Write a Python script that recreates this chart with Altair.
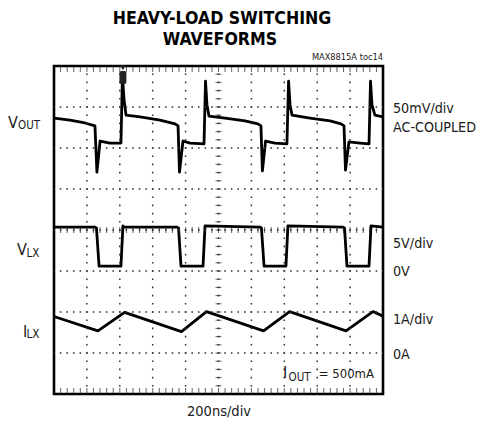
import altair as alt
import pandas as pd

# horizontal: time in ns (200 ns/div, 10 div); vertical: screen divisions (0 = bottom, 8 = top)
vout_t = [0, 97, 188, 249, 261, 280, 340, 407, 416, 426, 438, 523, 644, 736, 754, 763, 784, 827, 912, 921,
          930, 942, 1040, 1161, 1240, 1258, 1267, 1286, 1343, 1416, 1426, 1435, 1447, 1556, 1678, 1745, 1763,
          1772, 1793, 1860, 1915, 1924, 1933, 1951, 2000]
vout_div = [6.73, 6.68, 6.61, 6.54, 5.41, 6.17, 6.12, 6.12, 7.76, 7.17, 6.80, 6.76, 6.68, 6.59, 6.54, 5.41,
            6.17, 6.12, 6.10, 7.63, 7.05, 6.78, 6.73, 6.66, 6.59, 6.54, 5.44, 6.17, 6.12, 6.10, 7.63, 7.05,
            6.80, 6.73, 6.66, 6.59, 6.54, 5.46, 6.15, 6.12, 6.10, 7.63, 7.05, 6.80, 6.76]

vlx_t = [0, 249, 258, 274, 407, 419, 426, 748, 757, 772, 906, 918, 1252, 1261, 1277, 1410, 1422, 1757,
         1766, 1781, 1915, 1927, 2000]
vlx_div = [4.07, 4.07, 4.05, 3.12, 3.12, 4.10, 4.07, 4.07, 4.05, 3.12, 3.12, 4.10, 4.07, 4.05, 3.12, 3.12,
           4.10, 4.07, 4.05, 3.12, 3.12, 4.10, 4.07]

ilx_t = [0, 267, 429, 775, 927, 1274, 1432, 1775, 1939, 2000]
ilx_div = [1.89, 1.54, 1.99, 1.52, 2.01, 1.54, 2.01, 1.54, 2.01, 1.90]

# graticule
major_t = [200, 400, 600, 800, 1000, 1200, 1400, 1600, 1800]
major_div = [1, 2, 3, 4, 5, 6, 7]
minor_t = [i * 40 for i in range(1, 50)]
minor_div = [round(i * 0.2, 2) for i in range(1, 40)]

# trigger marker
trig_t = [419]
trig_lo, trig_hi = [7.56], [7.88]

FONT = "DejaVu Sans Condensed, Liberation Sans Narrow, sans-serif"

xs = alt.Scale(domain=[0, 2000], nice=False, zero=False)
ys = alt.Scale(domain=[0, 8], nice=False, zero=False)


def X(f):
    return alt.X(f, scale=xs, axis=None)


def Y(f):
    return alt.Y(f, scale=ys, axis=None)


rows = []
for name, ts, vs in [("VOUT", vout_t, vout_div), ("VLX", vlx_t, vlx_div), ("ILX", ilx_t, ilx_div)]:
    for i, (t, v) in enumerate(zip(ts, vs)):
        rows.append({"series": name, "i": i, "t": t, "v": v})
traces_df = pd.DataFrame(rows)

hidden = dict(grid=False, labels=False, ticks=False, domain=False, title=None)
traces = alt.Chart(traces_df).mark_line(color="black", strokeWidth=2.8, strokeJoin="round").encode(
    x=alt.X("t:Q", scale=xs, axis=alt.Axis(**hidden)),
    y=alt.Y("v:Q", scale=ys, axis=alt.Axis(**hidden)),
    detail="series:N", order="i:Q")

grid_c = "#333"
vgrid = alt.Chart(pd.DataFrame({"t": major_t})).mark_rule(
    color=grid_c, strokeWidth=1.5, strokeDash=[1.6, 6.6], strokeDashOffset=0.8).encode(
    x=X("t:Q"), y=alt.datum(0, scale=ys), y2=alt.datum(8))
hgrid = alt.Chart(pd.DataFrame({"v": major_div})).mark_rule(
    color=grid_c, strokeWidth=1.5, strokeDash=[1.6, 4.98], strokeDashOffset=0.8).encode(
    y=Y("v:Q"), x=alt.datum(0, scale=xs), x2=alt.datum(2000))

# minor ticks on center cross and frame edges
hticks = pd.DataFrame({"t": minor_t})
vticks = pd.DataFrame({"v": minor_div})
tick_color = "#222"
c_h = alt.Chart(hticks).mark_tick(orient="vertical", size=6, thickness=1, color=tick_color).encode(
    x=X("t:Q"), y=alt.datum(4, scale=ys))
top_t = alt.Chart(hticks).mark_tick(orient="vertical", size=6, thickness=1, color=tick_color, yOffset=3).encode(
    x=X("t:Q"), y=alt.datum(8, scale=ys))
bot_t = alt.Chart(hticks).mark_tick(orient="vertical", size=6, thickness=1, color=tick_color, yOffset=-3).encode(
    x=X("t:Q"), y=alt.datum(0, scale=ys))
c_v = alt.Chart(vticks).mark_tick(orient="horizontal", size=6, thickness=1, color=tick_color).encode(
    y=Y("v:Q"), x=alt.datum(1000, scale=xs))

trig_df = pd.DataFrame({"t": trig_t, "lo": trig_lo, "hi": trig_hi})
trig_rect = alt.Chart(trig_df).mark_rect(color="#222", cornerRadius=2, width=7).encode(
    x=X("t:Q"), y=Y("lo:Q"), y2="hi:Q")
trig_tri = alt.Chart(trig_df).mark_point(shape="triangle-down", filled=True, size=30, color="#222", opacity=1,
                                         yOffset=-3).encode(x=X("t:Q"), y=Y("hi:Q"))


# text annotations (pixel positions relative to the plot area, alphabetic baseline)
def text_layer(items, align, size, weight="normal", color="#1a1a1a"):
    df = pd.DataFrame(items, columns=["label", "px", "py"])
    return alt.Chart(df).mark_text(align=align, baseline="alphabetic", font=FONT, fontSize=size,
                                   fontWeight=weight, color=color).encode(
        x=alt.X("px:Q", scale=None, axis=None), y=alt.Y("py:Q", scale=None, axis=None), text="label:N")


title_l = text_layer([["HEAVY-LOAD SWITCHING", 168, -42], ["WAVEFORMS", 166, -21]], "center", 17.6, "bold", "#000")
toc = text_layer([["MAX8815A toc14", 329, -6]], "right", 9.2)
right_l = text_layer([["50mV/div", 339, 47], ["AC-COUPLED", 339, 66], ["5V/div", 339, 182], ["0V", 339, 210],
                      ["1A/div", 339, 258], ["0A", 339, 293]], "left", 14.2)
main_l = text_layer([["V", -46, 62], ["V", -37, 189], ["I", -31, 271], ["I", 229, 312]], "left", 16)
sub_l = text_layer([["OUT", -36, 63], ["LX", -27.5, 191], ["LX", -27.5, 272], ["OUT", 234.5, 315]], "left", 11.5)
iout = text_layer([["= 500mA", 320, 312]], "right", 13)
xlab = text_layer([["200ns/div", 165, 349.5]], "center", 14.5)

chart = alt.layer(
    traces, vgrid, hgrid, c_h, c_v, top_t, bot_t, trig_rect, trig_tri,
    title_l, toc, right_l, main_l, sub_l, iout, xlab,
).properties(
    width=329, height=328,
    autosize=alt.AutoSizeParams(type="none"),
    padding={"left": 46, "top": 58, "right": 93, "bottom": 26},
    background="white",
).configure_view(stroke="black", strokeWidth=2.6)

chart.save("out.html", embed_options={"renderer": "svg", "actions": False})
